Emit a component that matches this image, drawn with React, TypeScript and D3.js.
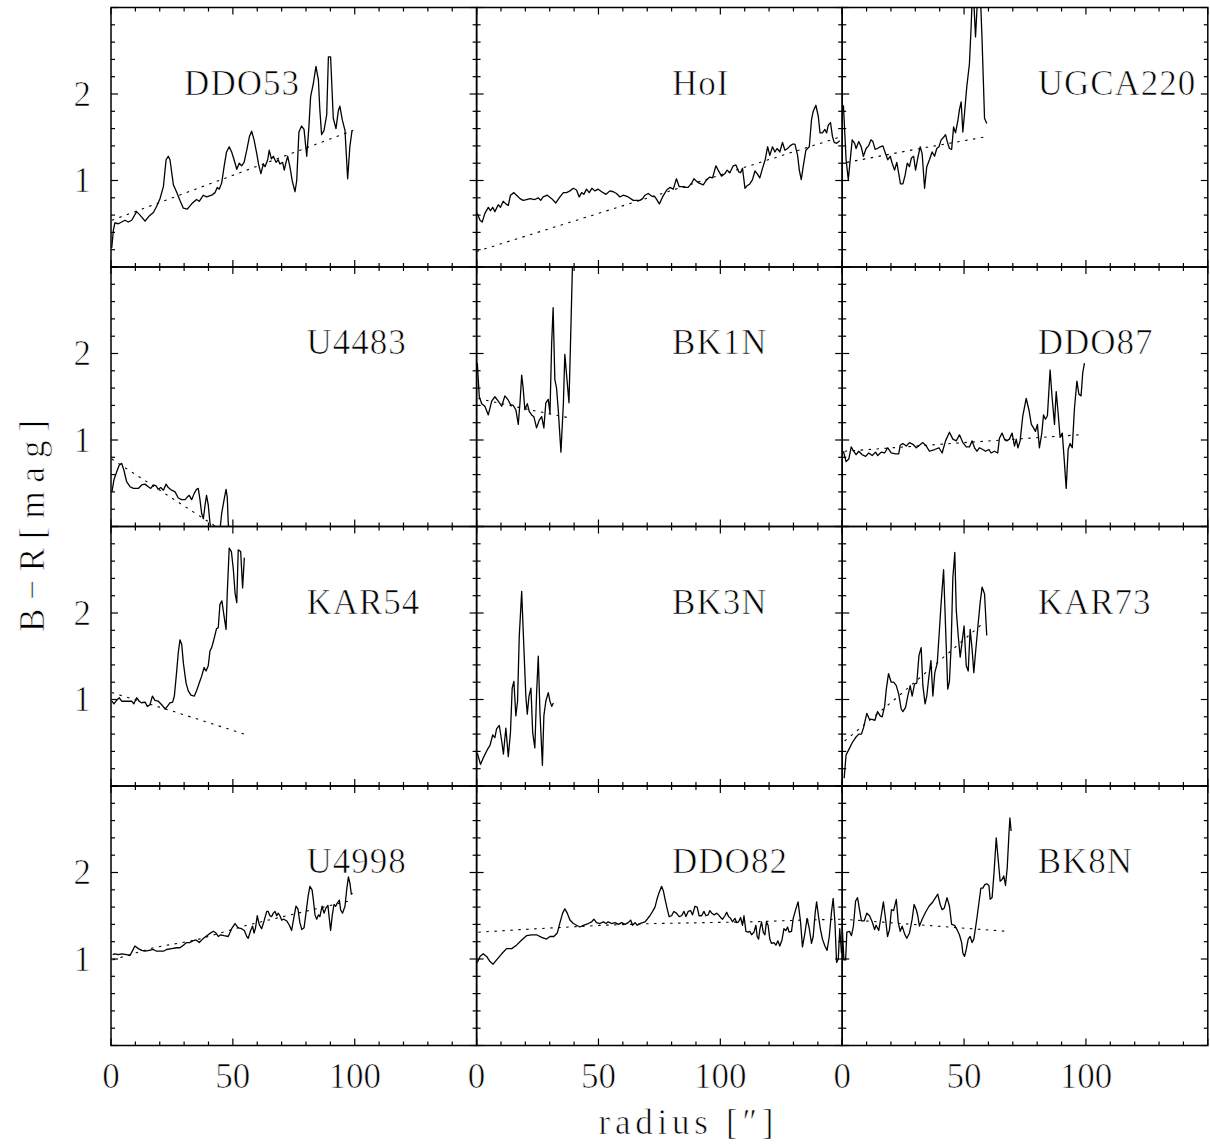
import React from "react";
import * as d3 from "d3";

type Pt = [number, number];

// ---- panel names (row-major) ----
const galaxyNames = ["DDO53", "HoI", "UGCA220", "U4483", "BK1N", "DDO87", "KAR54", "BK3N", "KAR73", "U4998", "DDO82", "BK8N"];

// ---- tick labels ----
const xTickLabels = ["0", "50", "100"];
const yTickLabels = ["1", "2"];
const xTitle = "radius [\u2033]";
const yTitle = "B\u2212R[mag]";

// ---- B-R profiles (radius ["], B-R [mag]) ----
const ddo53: Pt[] = [[0.3,0.22],[1.0,0.43],[1.6,0.51],[3.0,0.5],[4.4,0.52],[5.7,0.54],[7.1,0.52],[8.5,0.54],[10.5,0.64],[11.9,0.6],[14.0,0.53],[15.7,0.59],[17.4,0.63],[18.7,0.7],[20.1,0.79],[21.5,0.93],[22.6,1.24],[23.5,1.28],[24.2,1.24],[25.6,0.95],[27.0,0.86],[28.3,0.77],[29.7,0.68],[31.3,0.67],[33.1,0.73],[35.1,0.78],[36.2,0.76],[37.9,0.83],[39.2,0.81],[41.3,0.83],[42.7,0.86],[43.6,0.92],[44.4,0.9],[45.4,0.97],[46.4,1.16],[47.4,1.33],[48.5,1.39],[49.5,1.33],[50.5,1.24],[51.6,1.13],[52.6,1.2],[53.6,1.17],[54.6,1.21],[55.7,1.35],[56.8,1.51],[57.7,1.57],[58.7,1.47],[59.8,1.31],[60.6,1.18],[61.5,1.08],[62.5,1.19],[63.2,1.16],[64.3,1.24],[64.9,1.35],[65.8,1.25],[66.6,1.28],[67.7,1.21],[68.6,1.24],[69.3,1.19],[70.4,1.21],[71.1,1.12],[71.7,1.2],[72.5,1.28],[73.4,1.16],[74.4,0.99],[75.5,0.87],[76.2,1.0],[77.1,1.56],[78.2,1.63],[79.2,1.59],[80.3,1.28],[81.2,1.62],[81.9,1.97],[83.0,2.12],[84.1,2.32],[85.1,2.16],[85.7,1.81],[86.4,1.53],[87.4,1.58],[88.5,1.76],[89.2,2.43],[90.1,2.43],[91.2,1.72],[92.3,1.6],[93.3,1.81],[93.9,1.86],[94.9,1.7],[96.0,1.58],[97.1,1.02],[98.0,1.39],[98.9,1.58]];
const hoI: Pt[] = [[0.3,0.62],[1.4,0.54],[2.3,0.52],[3.4,0.62],[4.8,0.69],[5.7,0.65],[6.6,0.69],[7.5,0.64],[8.9,0.72],[9.8,0.69],[10.9,0.76],[12.0,0.73],[13.0,0.71],[13.9,0.83],[15.3,0.86],[16.4,0.83],[17.8,0.79],[19.1,0.77],[20.5,0.78],[21.9,0.79],[23.9,0.78],[25.3,0.8],[26.3,0.77],[27.3,0.81],[29.0,0.83],[30.8,0.79],[32.5,0.74],[34.2,0.81],[35.6,0.86],[36.9,0.86],[38.3,0.88],[39.7,0.91],[41.0,0.89],[42.1,0.81],[43.1,0.86],[44.0,0.84],[45.1,0.9],[46.2,0.86],[47.3,0.91],[48.5,0.88],[49.9,0.9],[51.3,0.87],[53.1,0.84],[54.7,0.88],[56.1,0.87],[57.4,0.85],[58.8,0.81],[60.2,0.83],[62.2,0.81],[64.3,0.77],[65.6,0.77],[67.0,0.77],[68.1,0.79],[69.1,0.83],[70.4,0.85],[71.8,0.82],[73.2,0.81],[75.0,0.73],[76.3,0.81],[78.0,0.89],[79.3,0.92],[80.7,0.9],[82.0,1.02],[83.1,0.93],[84.1,0.93],[85.5,0.92],[86.8,0.92],[88.2,0.97],[89.2,1.02],[90.3,0.99],[91.3,0.97],[93.0,0.95],[94.4,1.01],[95.7,1.04],[96.8,1.03],[98.2,1.17],[99.1,1.12],[100.5,1.05],[101.9,1.08],[102.8,1.12],[103.9,1.09],[105.3,1.17],[106.4,1.18],[107.5,1.1],[108.3,1.09],[109.1,1.14],[110.1,0.91],[111.0,0.94],[112.1,0.96],[113.2,1.01],[114.2,1.11],[115.1,1.08],[116.2,1.03],[117.3,1.14],[118.4,1.24],[119.4,1.39],[120.3,1.29],[121.4,1.39],[122.4,1.33],[123.3,1.37],[124.4,1.33],[125.5,1.44],[126.5,1.35],[127.6,1.37],[128.6,1.4],[129.6,1.42],[130.6,1.42],[131.7,1.29],[132.4,1.12],[133.2,1.01],[134.0,1.16],[135.1,1.35],[136.5,1.39],[137.4,1.7],[138.1,1.8],[139.2,1.87],[140.2,1.74],[140.9,1.55],[141.9,1.55],[142.9,1.59],[143.6,1.55],[144.3,1.64],[145.2,1.67],[146.0,1.51],[146.7,1.44],[147.7,1.43],[149.0,1.46]];
const ugca220: Pt[] = [[0.5,1.87],[1.6,1.24],[2.5,1.01],[3.3,1.24],[4.1,1.47],[5.1,1.43],[5.7,1.37],[6.8,1.45],[7.8,1.39],[8.7,1.28],[9.8,1.37],[10.8,1.4],[11.8,1.47],[12.6,1.45],[13.5,1.36],[14.5,1.37],[15.6,1.39],[16.7,1.4],[17.8,1.31],[18.7,1.24],[19.7,1.28],[20.5,1.2],[21.5,1.12],[22.4,1.21],[23.2,1.08],[23.9,0.96],[24.9,0.96],[25.8,1.06],[26.7,1.2],[27.6,1.16],[28.4,1.26],[29.3,1.28],[30.1,1.12],[31.0,1.26],[32.0,1.39],[32.8,1.31],[33.8,0.91],[34.7,1.16],[35.8,1.24],[36.9,1.33],[37.9,1.28],[38.8,1.37],[39.7,1.39],[40.6,1.47],[41.6,1.5],[42.4,1.53],[43.1,1.45],[44.0,1.37],[44.9,1.36],[45.7,1.62],[46.5,1.55],[47.5,1.7],[48.1,1.82],[48.8,1.91],[49.5,1.56],[50.2,1.78],[51.1,2.08],[52.2,2.35],[52.9,2.78],[53.6,3.3],[54.7,2.66],[55.7,3.2],[56.6,3.2],[57.3,2.7],[58.4,1.72],[59.3,1.66]];
const u4483: Pt[] = [[0.4,0.4],[1.2,0.54],[2.3,0.63],[3.4,0.71],[4.4,0.73],[5.3,0.65],[6.4,0.52],[7.8,0.46],[9.2,0.44],[11.2,0.44],[12.6,0.48],[13.9,0.49],[15.3,0.46],[16.3,0.44],[17.4,0.48],[18.5,0.47],[19.4,0.43],[20.4,0.45],[21.5,0.42],[22.6,0.49],[23.5,0.45],[24.9,0.42],[26.3,0.4],[27.6,0.33],[29.0,0.31],[30.4,0.31],[31.3,0.34],[32.1,0.36],[33.1,0.31],[34.1,0.38],[35.1,0.43],[35.8,0.44],[36.5,0.31],[37.2,0.15],[37.9,0.09],[38.6,0.25],[39.2,0.36],[39.9,0.25],[40.6,0.04],[41.5,-0.12],[43.5,-0.15],[44.7,-0.04],[45.4,0.15],[46.4,0.31],[47.2,0.43],[47.7,0.34],[48.1,0.04],[48.5,-0.1]];
const bk1n: Pt[] = [[0.3,1.89],[1.1,1.5],[2.1,1.42],[3.4,1.39],[4.8,1.29],[6.2,1.45],[7.5,1.5],[8.9,1.45],[10.3,1.39],[11.6,1.51],[13.0,1.46],[13.9,1.41],[15.0,1.4],[16.1,1.35],[17.1,1.18],[17.8,1.43],[18.5,1.75],[19.1,1.6],[19.8,1.35],[20.8,1.42],[21.6,1.33],[22.6,1.29],[23.5,1.27],[24.6,1.14],[25.7,1.23],[26.7,1.27],[27.6,1.14],[28.4,1.43],[29.4,1.47],[30.1,1.31],[30.8,2.12],[31.4,2.53],[32.1,1.7],[32.8,1.6],[33.5,1.35],[34.6,0.86],[35.6,1.42],[36.2,1.99],[37.2,1.66],[37.9,1.43],[38.6,2.2],[39.4,3.1]];
const ddo87: Pt[] = [[0.5,0.87],[1.6,0.75],[2.7,0.78],[3.7,0.92],[4.7,0.87],[5.7,0.83],[6.8,0.87],[8.2,0.83],[9.6,0.81],[10.9,0.85],[12.3,0.82],[13.7,0.86],[14.6,0.82],[16.0,0.86],[17.4,0.85],[18.7,0.91],[20.1,0.85],[21.9,0.84],[23.2,0.84],[23.8,0.94],[24.9,0.96],[26.3,0.93],[27.6,0.97],[29.0,0.95],[30.4,0.91],[31.7,0.94],[33.1,0.97],[34.5,0.93],[35.8,0.87],[37.9,0.89],[39.7,0.91],[41.0,0.85],[42.4,0.99],[44.0,1.09],[45.4,1.01],[46.8,0.99],[48.1,1.06],[49.5,0.97],[50.9,0.92],[52.2,0.92],[53.3,0.99],[54.3,0.91],[55.3,0.87],[56.3,0.91],[57.7,0.89],[58.8,0.87],[60.2,0.89],[61.1,0.85],[62.5,0.87],[63.8,0.85],[64.5,1.02],[65.6,1.08],[66.6,1.01],[67.5,0.99],[68.6,1.01],[69.7,1.08],[70.7,0.93],[71.4,1.01],[72.1,0.91],[73.0,0.99],[74.1,1.28],[75.5,1.48],[76.6,1.35],[77.6,1.18],[78.5,1.14],[79.3,1.1],[80.1,1.18],[80.9,0.91],[81.9,1.08],[82.6,1.29],[83.4,1.24],[84.2,1.28],[85.3,1.81],[86.1,1.5],[87.1,1.18],[87.8,1.56],[88.6,1.31],[89.4,1.03],[90.3,1.08],[91.1,0.77],[91.9,0.44],[92.7,0.89],[93.5,0.96],[94.4,0.91],[95.3,1.37],[96.3,1.68],[97.1,1.53],[98.0,1.51],[98.7,1.78],[99.4,1.89]];
const kar54: Pt[] = [[0.4,0.98],[1.2,0.95],[2.3,0.99],[3.4,1.02],[4.4,0.98],[5.7,0.98],[7.1,0.98],[8.5,0.98],[9.4,0.95],[10.5,1.02],[11.6,0.98],[12.6,0.96],[14.0,0.97],[14.9,0.92],[16.0,0.94],[17.0,1.04],[18.0,0.99],[19.4,0.98],[20.8,0.94],[22.2,0.89],[23.1,0.92],[24.2,0.96],[25.3,0.97],[26.0,1.04],[26.9,1.31],[27.6,1.54],[28.3,1.69],[29.0,1.64],[29.7,1.42],[30.8,1.19],[31.7,1.1],[32.8,1.05],[34.2,1.04],[35.1,1.1],[36.2,1.19],[37.2,1.27],[38.2,1.37],[39.0,1.33],[39.9,1.39],[40.6,1.56],[41.3,1.6],[42.0,1.67],[42.7,1.75],[43.3,1.82],[44.0,1.83],[44.7,2.1],[45.5,2.14],[46.4,1.96],[47.2,1.81],[47.7,2.23],[48.5,2.75],[49.4,2.71],[50.2,2.5],[50.9,2.23],[51.6,2.12],[52.2,2.73],[53.2,2.71],[54.0,2.29],[54.7,2.64]];
const bk3n: Pt[] = [[0.3,0.38],[1.6,0.25],[3.0,0.34],[4.4,0.42],[5.5,0.47],[6.6,0.59],[7.5,0.56],[8.2,0.66],[9.3,0.7],[10.3,0.52],[11.0,0.37],[12.0,0.67],[13.0,0.34],[13.9,0.62],[14.6,1.13],[15.3,1.21],[16.1,0.81],[16.8,0.98],[17.5,1.73],[18.5,2.25],[19.1,1.81],[20.2,1.04],[20.8,0.83],[21.5,1.04],[22.3,1.13],[23.0,0.62],[23.9,0.44],[24.6,1.06],[25.3,1.5],[26.0,0.85],[27.0,0.24],[27.6,0.81],[28.4,0.98],[29.4,1.08],[30.1,0.98],[30.8,0.92],[31.5,0.96]];
const kar73: Pt[] = [[0.8,0.09],[1.6,0.36],[2.7,0.42],[4.1,0.5],[5.5,0.56],[6.8,0.6],[7.9,0.6],[8.8,0.68],[10.1,0.84],[11.2,0.77],[12.3,0.77],[13.4,0.76],[14.5,0.86],[15.6,0.81],[16.4,0.8],[17.4,0.92],[18.1,1.12],[19.0,1.3],[20.1,1.2],[21.1,1.2],[22.2,1.16],[23.2,1.06],[24.2,0.89],[24.9,0.86],[26.0,0.91],[26.9,1.04],[27.9,1.16],[28.7,1.04],[29.7,1.18],[30.6,1.19],[31.5,1.51],[32.4,1.6],[33.1,1.16],[34.0,0.95],[34.7,1.04],[35.6,1.27],[36.4,1.45],[37.2,1.04],[38.0,1.31],[39.0,1.42],[39.9,1.81],[40.6,2.12],[41.6,2.5],[42.7,1.6],[43.3,1.12],[44.0,1.21],[44.7,1.62],[45.4,2.41],[46.2,2.7],[46.8,2.03],[47.6,1.74],[48.4,1.49],[49.2,1.67],[50.0,1.85],[50.9,1.39],[51.7,1.33],[52.5,1.81],[53.3,1.58],[54.0,1.31],[54.7,1.54],[55.7,1.85],[56.6,2.12],[57.4,2.3],[58.4,2.22],[59.3,1.74]];
const u4998: Pt[] = [[0.7,1.05],[1.6,1.06],[3.0,1.05],[4.4,1.06],[6.4,1.05],[7.8,1.04],[8.9,1.1],[9.8,1.15],[11.2,1.12],[12.6,1.1],[14.0,1.09],[15.7,1.1],[17.4,1.11],[18.7,1.09],[20.1,1.09],[21.5,1.09],[22.8,1.11],[24.9,1.12],[26.9,1.13],[28.3,1.13],[29.7,1.16],[31.0,1.19],[32.4,1.19],[33.5,1.21],[34.9,1.22],[36.2,1.19],[37.6,1.23],[38.9,1.26],[40.3,1.29],[42.0,1.32],[43.1,1.3],[44.0,1.26],[45.0,1.28],[46.4,1.27],[48.1,1.26],[49.5,1.35],[50.9,1.41],[52.2,1.36],[53.6,1.35],[54.7,1.33],[55.7,1.26],[56.3,1.24],[57.3,1.33],[58.1,1.38],[58.7,1.3],[59.3,1.36],[60.0,1.5],[60.8,1.4],[61.8,1.35],[62.8,1.44],[63.9,1.55],[64.5,1.55],[65.2,1.5],[65.9,1.49],[66.6,1.53],[67.3,1.55],[68.0,1.5],[68.6,1.53],[69.3,1.5],[70.0,1.45],[70.9,1.46],[72.1,1.44],[73.2,1.39],[74.1,1.33],[75.1,1.49],[75.9,1.61],[76.7,1.58],[77.5,1.42],[78.3,1.34],[79.2,1.36],[80.0,1.53],[80.9,1.73],[81.6,1.84],[82.5,1.8],[83.0,1.69],[83.7,1.51],[84.4,1.46],[85.1,1.51],[85.7,1.49],[86.6,1.61],[87.4,1.53],[88.2,1.59],[89.0,1.62],[89.6,1.46],[90.1,1.33],[90.8,1.51],[91.5,1.63],[92.2,1.61],[92.9,1.65],[93.7,1.68],[94.2,1.57],[95.0,1.53],[96.0,1.61],[96.7,1.8],[97.4,1.95],[98.0,1.88],[98.6,1.75],[99.1,1.76]];
const ddo82: Pt[] = [[0.3,0.96],[1.4,1.03],[2.7,1.06],[4.1,1.03],[5.5,0.97],[6.8,0.94],[8.2,0.99],[10.3,1.06],[12.3,1.12],[14.4,1.12],[16.4,1.16],[18.5,1.22],[20.5,1.27],[22.6,1.28],[24.6,1.28],[26.7,1.25],[28.7,1.23],[30.1,1.26],[31.7,1.26],[33.1,1.3],[34.2,1.42],[35.3,1.53],[36.2,1.58],[37.2,1.53],[38.3,1.45],[39.7,1.41],[41.0,1.39],[42.4,1.37],[43.8,1.39],[45.8,1.41],[47.2,1.43],[48.1,1.46],[49.2,1.42],[50.6,1.41],[52.0,1.43],[53.1,1.41],[54.0,1.43],[55.4,1.41],[56.8,1.42],[58.2,1.4],[59.5,1.42],[60.9,1.4],[62.2,1.42],[63.2,1.45],[64.0,1.39],[65.0,1.42],[65.9,1.39],[67.0,1.41],[68.1,1.42],[69.1,1.43],[70.0,1.46],[71.1,1.5],[72.2,1.55],[73.2,1.6],[74.1,1.7],[74.9,1.77],[75.9,1.84],[76.6,1.79],[77.4,1.68],[78.2,1.58],[79.0,1.49],[80.0,1.5],[80.9,1.55],[82.0,1.53],[83.1,1.49],[84.1,1.5],[85.1,1.55],[85.9,1.49],[86.8,1.55],[87.8,1.56],[88.6,1.51],[89.6,1.61],[90.5,1.6],[91.3,1.5],[92.3,1.5],[93.3,1.55],[94.1,1.5],[95.0,1.51],[95.7,1.56],[96.5,1.53],[97.5,1.51],[98.5,1.53],[99.3,1.51],[100.1,1.48],[100.9,1.46],[101.9,1.5],[102.6,1.54],[103.4,1.49],[104.2,1.47],[105.0,1.43],[106.0,1.47],[106.7,1.42],[107.5,1.43],[108.3,1.48],[109.1,1.39],[109.7,1.5],[110.5,1.32],[111.4,1.31],[112.1,1.32],[112.8,1.28],[113.8,1.31],[114.6,1.39],[115.1,1.26],[115.7,1.23],[116.2,1.34],[116.9,1.43],[117.6,1.31],[118.3,1.28],[118.9,1.43],[119.6,1.39],[120.3,1.23],[121.0,1.18],[122.0,1.19],[122.8,1.16],[123.6,1.21],[124.4,1.15],[125.3,1.22],[126.1,1.35],[126.9,1.33],[127.6,1.37],[128.2,1.31],[129.2,1.32],[129.9,1.47],[131.0,1.58],[131.9,1.66],[132.9,1.43],[133.7,1.14],[134.7,1.3],[135.6,1.47],[136.5,1.35],[137.4,1.18],[138.1,1.26],[138.9,1.53],[139.5,1.66],[140.3,1.49],[141.1,1.34],[141.9,1.23],[142.9,1.15],[143.8,1.1],[144.7,1.26],[145.6,1.54],[146.3,1.7],[147.0,1.43],[147.7,0.96],[148.4,1.0],[149.0,1.35],[149.7,1.07]];
const bk8n: Pt[] = [[0.0,1.38],[0.7,0.99],[1.4,0.99],[1.9,1.31],[3.0,1.32],[3.8,1.27],[4.6,1.38],[5.5,1.67],[6.3,1.71],[7.1,1.57],[7.9,1.44],[9.0,1.44],[10.1,1.53],[11.2,1.5],[12.3,1.43],[13.3,1.34],[13.9,1.39],[15.0,1.33],[16.0,1.5],[16.9,1.66],[17.8,1.46],[18.6,1.26],[19.4,1.34],[20.2,1.57],[21.1,1.56],[22.2,1.69],[23.0,1.42],[23.8,1.32],[24.6,1.38],[25.6,1.29],[26.5,1.24],[27.6,1.3],[28.7,1.46],[29.5,1.63],[30.4,1.57],[31.0,1.5],[31.7,1.38],[32.8,1.46],[34.2,1.54],[35.6,1.61],[36.9,1.65],[38.3,1.71],[39.2,1.75],[40.2,1.63],[41.0,1.57],[41.9,1.59],[43.0,1.71],[44.0,1.61],[44.9,1.4],[46.1,1.39],[47.1,1.34],[48.1,1.28],[49.0,1.19],[49.5,1.07],[50.2,1.03],[50.9,1.11],[51.7,1.23],[52.5,1.26],[53.3,1.19],[54.0,1.23],[54.7,1.36],[55.4,1.5],[56.1,1.65],[56.9,1.82],[57.7,1.82],[58.5,1.86],[59.3,1.87],[60.2,1.85],[60.7,1.69],[61.5,1.71],[62.3,2.0],[63.2,2.4],[64.0,2.15],[64.8,1.9],[65.6,1.92],[66.3,1.96],[67.0,1.85],[67.7,2.05],[68.4,2.44],[68.8,2.63],[69.3,2.48]];

// ---- fitted (dotted) profiles ----
const ddo53Fit: Pt[] = [[0.3,0.54],[50,1.06],[99.4,1.58]];
const hoIFit: Pt[] = [[0,0.18],[75,0.84],[150,1.51]];
const ugca220Fit: Pt[] = [[2,1.21],[30,1.36],[58,1.5]];
const u4483Fit: Pt[] = [[0.3,0.78],[8.5,0.63],[43,0.0]];
const bk1nFit: Pt[] = [[0.7,1.48],[20,1.36],[39,1.25]];
const ddo87Fit: Pt[] = [[1,0.87],[50,0.97],[97.4,1.06]];
const kar54Fit: Pt[] = [[0.3,1.08],[27,0.85],[54.7,0.6]];
const bk3nFit: Pt[] = [];
const kar73Fit: Pt[] = [[1,0.52],[21.5,1.0],[57.7,1.88]];
const u4998Fit: Pt[] = [[0.7,0.99],[17.4,1.13],[34.9,1.22],[55.7,1.39],[72.1,1.5],[85.7,1.59],[99.1,1.68]];
const ddo82Fit: Pt[] = [[0.7,1.31],[24.6,1.35],[52,1.39],[72.5,1.41],[93,1.42],[113.5,1.43],[134,1.45],[150,1.46]];
const bk8nFit: Pt[] = [[0,1.46],[34,1.39],[67.5,1.32]];

const profiles: Pt[][] = [ddo53, hoI, ugca220, u4483, bk1n, ddo87, kar54, bk3n, kar73, u4998, ddo82, bk8n];
const fits: Pt[][] = [ddo53Fit, hoIFit, ugca220Fit, u4483Fit, bk1nFit, ddo87Fit, kar54Fit, bk3nFit, kar73Fit, u4998Fit, ddo82Fit, bk8nFit];

// ---- layout ----
const W = 1210, H = 1144;
const LEFT0 = 111, PW = 365.6, TOP0 = 7.5, PH = 259.5;
const FONT = "'Liberation Serif', 'DejaVu Serif', serif";
const labelX = (i: number) => (i === 0 ? 30 : 80.2);
const thin = { stroke: "#fff", strokeWidth: 0.7 };

function Panel({ idx }: { idx: number }) {
  const col = idx % 3, row = Math.floor(idx / 3);
  const left = LEFT0 + col * PW, top = TOP0 + row * PH;
  const x = d3.scaleLinear().domain([0, 150]).range([left, left + PW]);
  const y = d3.scaleLinear().domain([0, 3]).range([top + PH, top]);
  const line = d3.line<Pt>().x(d => x(d[0])).y(d => y(d[1]));
  const xt = d3.range(0, 151, 10);
  const yt = d3.range(0, 16).map(k => k * 0.2);
  const clipId = `clip${idx}`;
  return (
    <g>
      <clipPath id={clipId}>
        <rect x={left} y={top} width={PW} height={PH} />
      </clipPath>
      <g clipPath={`url(#${clipId})`}>
        {fits[idx].length > 0 && (
          <path d={line(fits[idx]) || ""} fill="none" stroke="#000" strokeWidth={1.1} strokeDasharray="2.5,5.5" />
        )}
        <path d={line(profiles[idx]) || ""} fill="none" stroke="#000" strokeWidth={1.3} strokeLinejoin="round" />
      </g>
      <rect x={left} y={top} width={PW} height={PH} fill="none" stroke="#000" strokeWidth={1.5} />
      {xt.map(v => {
        const L = v % 50 === 0 ? 7 : 4;
        return (
          <g key={"x" + v}>
            <line x1={x(v)} x2={x(v)} y1={top + PH} y2={top + PH - L} stroke="#000" strokeWidth={1.2} />
            <line x1={x(v)} x2={x(v)} y1={top} y2={top + L} stroke="#000" strokeWidth={1.2} />
          </g>
        );
      })}
      {yt.map((v, k) => {
        const L = k % 5 === 0 ? 7 : 4;
        return (
          <g key={"y" + k}>
            <line x1={left} x2={left + L} y1={y(v)} y2={y(v)} stroke="#000" strokeWidth={1.2} />
            <line x1={left + PW} x2={left + PW - L} y1={y(v)} y2={y(v)} stroke="#000" strokeWidth={1.2} />
          </g>
        );
      })}
      <text x={x(labelX(idx))} y={y(1.99)} fontFamily={FONT} fontSize={35} fill="#000" letterSpacing={1} {...thin}>{galaxyNames[idx]}</text>
      {col === 0 && yTickLabels.map(t => (
        <text key={t} x={left - 20} y={y(+t) + 11.5} textAnchor="end" fontFamily={FONT} fontSize={35} fill="#000" {...thin}>{t}</text>
      ))}
      {row === 3 && xTickLabels.map(t => (
        <text key={t} x={x(+t)} y={1088} textAnchor="middle" fontFamily={FONT} fontSize={35} fill="#000" {...thin}>{t}</text>
      ))}
    </g>
  );
}

export default function App() {
  return (
    <svg width={W} height={H} style={{ position: "absolute", left: 0, top: 0, background: "#fff" }}>
      <rect x={0} y={0} width={W} height={H} fill="#fff" />
      {galaxyNames.map((_, i) => <Panel key={i} idx={i} />)}
      <text x={686} y={1134} textAnchor="middle" fontFamily={FONT} fontSize={35} textLength={175} lengthAdjust="spacing" fill="#000" {...thin}>{xTitle}</text>
      <text transform="translate(44,526) rotate(-90)" textAnchor="middle" fontFamily={FONT} fontSize={35} textLength={212} lengthAdjust="spacing" fill="#000" {...thin}>{yTitle}</text>
    </svg>
  );
}
